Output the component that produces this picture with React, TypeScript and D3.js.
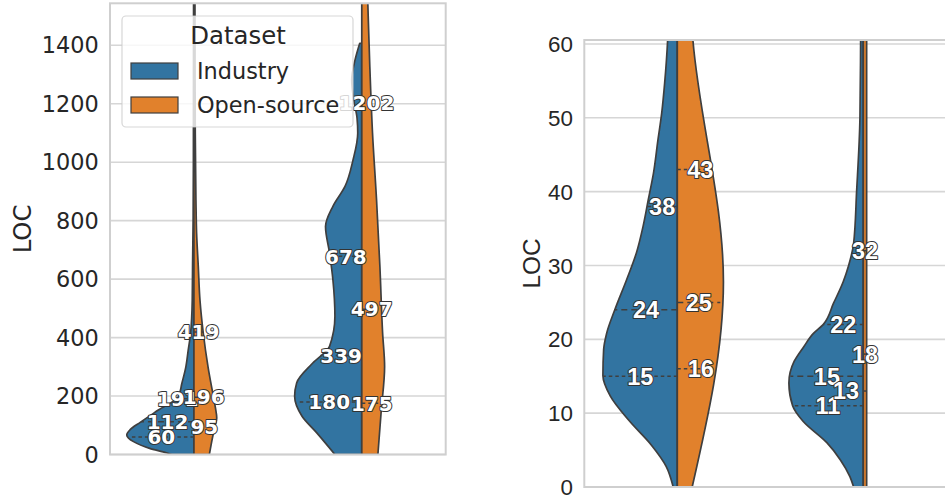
import React from "react";
import * as d3 from "d3";

type Pt = [number, number];

// ---------- data ----------
const GROUPS = ["Industry", "Open-source"];
const GROUP_COLORS = ["#3274a1", "#e1812c"];
const CATEGORIES = ["A", "B"]; // x categories (not labelled in the figure)

const LEFT_TICKS = [0, 200, 400, 600, 800, 1000, 1200, 1400];
const RIGHT_TICKS = [0, 10, 20, 30, 40, 50, 60];
const LEFT_MAX = 1543.7;
const RIGHT_MAX = 60.54;

// density profiles: [LOC, relative density]
const leftIndustryA: Pt[] = [[0, 0.33], [6, 0.41], [21, 0.66], [44, 0.9], [67, 1.0], [85, 0.95], [110, 0.8], [152, 0.53], [198, 0.23], [243, 0.18], [300, 0.12], [357, 0.085], [414, 0.05], [528, 0.025], [650, 0.02], [800, 0.012], [1000, 0.008], [1600, 0.005]];
const leftOpenA: Pt[] = [[0, 0.23], [50, 0.27], [95, 0.31], [125, 0.34], [160, 0.32], [198, 0.29], [300, 0.21], [414, 0.14], [528, 0.09], [643, 0.065], [757, 0.04], [871, 0.03], [1100, 0.02], [1600, 0.015]];
const leftIndustryB: Pt[] = [[0, 0.4], [74, 0.67], [131, 0.89], [199, 1.0], [245, 0.97], [313, 0.73], [370, 0.48], [473, 0.4], [598, 0.43], [689, 0.48], [780, 0.54], [849, 0.43], [917, 0.25], [1008, 0.13], [1100, 0.06], [1150, 0.07], [1213, 0.12], [1281, 0.15], [1350, 0.1], [1407, 0.03]];
const leftOpenB: Pt[] = [[0, 0.24], [150, 0.29], [301, 0.34], [417, 0.31], [643, 0.27], [871, 0.22], [1100, 0.16], [1326, 0.12], [1544, 0.09], [1700, 0.07]];

const rightIndustryA: Pt[] = [[0, 0.055], [2.8, 0.15], [5.7, 0.35], [8.9, 0.64], [12.3, 0.9], [15.1, 1.0], [18.6, 0.99], [20.8, 0.95], [24, 0.84], [28.1, 0.68], [31.7, 0.55], [35.3, 0.46], [38.9, 0.39], [42.5, 0.32], [47, 0.26], [50.6, 0.21], [54.7, 0.17], [60.5, 0.13], [63, 0.12]];
const rightOpenA: Pt[] = [[0, 0.2], [27.8, 0.62], [60.5, 0.21], [63, 0.19]];
const rightIndustryB: Pt[] = [[0, 0.13], [1.4, 0.18], [3.7, 0.31], [6, 0.49], [8.9, 0.81], [11, 0.95], [14.1, 1.0], [17, 0.93], [19, 0.8], [20.8, 0.67], [22, 0.54], [24.9, 0.4], [27.8, 0.27], [29.9, 0.2], [33, 0.13], [40, 0.09], [50, 0.045], [60.5, 0.036], [63, 0.035]];
const rightOpenB: Pt[] = [[0, 0.045], [63, 0.045]];

// quartiles [Q1, median, Q3]
const leftQIndustryA = [60, 112, 191];
const leftQOpenA = [95, 196, 419];
const leftQIndustryB = [180, 339, 678];
const leftQOpenB = [175, 497, 1202];
const rightQIndustryA = [15, 24, 38];
const rightQOpenA = [16, 25, 43];
const rightQIndustryB = [11, 15, 22];
const rightQOpenB = [13, 18, 32];

// ---------- layout ----------
const LABEL_NUDGE: Record<string, number> = {
  "L-0-0-191": -7,
  "R-0-1-16": 7,
  "R-0-1-43": 7,
  "R-1-1-13": -19,
};

const EDGE = "#3f3f3f";
const TEXT = "#262626";

const panels = [
  {
    id: "L", x0: 110, x1: 445.7, yTop: 3.3, yBot: 454.5, max: LEFT_MAX, ticks: LEFT_TICKS,
    font: "'DejaVu Sans', sans-serif", labelSize: 20, yLabelX: 22,
    profiles: [[leftIndustryA, leftOpenA], [leftIndustryB, leftOpenB]],
    quarts: [[leftQIndustryA, leftQOpenA], [leftQIndustryB, leftQOpenB]],
  },
  {
    id: "R", x0: 584.3, x1: 956.3, yTop: 40, yBot: 487, max: RIGHT_MAX, ticks: RIGHT_TICKS,
    font: "'Liberation Sans', Arial, sans-serif", labelSize: 23.5, yLabelX: 531,
    profiles: [[rightIndustryA, rightOpenA], [rightIndustryB, rightOpenB]],
    quarts: [[rightQIndustryA, rightQOpenA], [rightQIndustryB, rightQOpenB]],
  },
];

function interp(p: Pt[], v: number): number {
  for (let i = 0; i < p.length - 1; i++) {
    if (v >= p[i][0] && v <= p[i + 1][0]) {
      const t = (v - p[i][0]) / (p[i + 1][0] - p[i][0]);
      return p[i][1] + t * (p[i + 1][1] - p[i][1]);
    }
  }
  return v < p[0][0] ? p[0][1] : p[p.length - 1][1];
}

function Panel({ pn }: { pn: (typeof panels)[number] }) {
  const y = d3.scaleLinear().domain([0, pn.max]).range([pn.yBot, pn.yTop]);
  const x = d3.scalePoint<string>().domain(CATEGORIES).range([pn.x0, pn.x1]).padding(0.5);
  const halfW = x.step() * 0.4;
  const clipId = "clip-" + pn.id;
  const midY = (pn.yTop + pn.yBot) / 2;

  const violins: JSX.Element[] = [];
  const lines: JSX.Element[] = [];
  const labels: JSX.Element[] = [];

  CATEGORIES.forEach((cat, ci) => {
    const cx = x(cat) as number;
    GROUPS.forEach((g, gi) => {
      const side = gi === 0 ? -1 : 1;
      const prof = pn.profiles[ci][gi] as Pt[];
      const data = [...prof].sort((a, b) => b[0] - a[0]);
      const area = d3
        .area<Pt>()
        .y((d) => y(d[0]))
        .x0(cx)
        .x1((d) => cx + side * d[1] * halfW)
        .curve(d3.curveMonotoneY);
      violins.push(
        <path key={`v-${ci}-${gi}`} d={area(data) || ""} fill={GROUP_COLORS[gi]}
          stroke={EDGE} strokeWidth={1.7} strokeLinejoin="round" />
      );
      const qs = pn.quarts[ci][gi] as number[];
      qs.forEach((q, k) => {
        const w = interp(prof, q) * halfW;
        const yy = y(q);
        lines.push(
          <line key={`q-${ci}-${gi}-${k}`} x1={cx} x2={cx + side * w} y1={yy} y2={yy}
            stroke={EDGE} strokeWidth={1.5} strokeDasharray={k === 1 ? "6,4" : "3.5,3"} />
        );
        const nudge = LABEL_NUDGE[`${pn.id}-${ci}-${gi}-${q}`] || 0;
        labels.push(
          <text key={`t-${ci}-${gi}-${k}`} x={cx + side * w / 2 + nudge} y={yy} dy="0.36em"
            textAnchor="middle" fontFamily={pn.font} fontWeight="bold" fontSize={pn.labelSize}
            fill="#ffffff" stroke="#333333" strokeWidth={2} paintOrder="stroke"
            strokeLinejoin="round">{q}</text>
        );
      });
    });
  });

  return (
    <g>
      <defs>
        <clipPath id={clipId}>
          <rect x={pn.x0} y={pn.yTop} width={pn.x1 - pn.x0} height={pn.yBot - pn.yTop} />
        </clipPath>
      </defs>
      {pn.ticks.map((t) => (
        <line key={"g" + t} x1={pn.x0} x2={pn.x1} y1={y(t)} y2={y(t)} stroke="#d6d6d6" strokeWidth={1.6} />
      ))}
      <g clipPath={`url(#${clipId})`}>
        {violins}
        {lines}
      </g>
      <rect x={pn.x0} y={pn.yTop} width={pn.x1 - pn.x0} height={pn.yBot - pn.yTop}
        fill="none" stroke="#cfcfcf" strokeWidth={2} />
      {pn.ticks.map((t) => (
        <text key={"tk" + t} x={pn.x0 - 11.3} y={y(t)} dy="0.36em" textAnchor="end"
          fontFamily={pn.font} fontSize={22.4} fill={TEXT}>{t}</text>
      ))}
      <text transform={`translate(${pn.yLabelX},${midY}) rotate(-90)`} dy="0.36em" textAnchor="middle"
        fontFamily={pn.font} fontSize={24.4} fill={TEXT}>LOC</text>
      {labels}
    </g>
  );
}

function Legend() {
  const font = "'DejaVu Sans', sans-serif";
  return (
    <g>
      <rect x={122} y={16} width={231} height={111} rx={4} fill="#ffffff" fillOpacity={0.8}
        stroke="#cccccc" strokeOpacity={0.8} strokeWidth={1.2} />
      <text x={238} y={44} textAnchor="middle" fontFamily={font} fontSize={24.4} fill={TEXT}>Dataset</text>
      {GROUPS.map((g, i) => (
        <g key={g}>
          <rect x={131} y={63 + i * 34} width={47} height={16} fill={GROUP_COLORS[i]} stroke={EDGE} strokeWidth={1.2} />
          <text x={197} y={79 + i * 34} fontFamily={font} fontSize={22.4} fill={TEXT}>{g}</text>
        </g>
      ))}
    </g>
  );
}

export default function App() {
  return (
    <svg width={945} height={499} style={{ position: "absolute", left: 0, top: 0, background: "#ffffff" }}>
      <rect x={0} y={0} width={945} height={499} fill="#ffffff" />
      {panels.map((pn) => (
        <Panel key={pn.id} pn={pn} />
      ))}
      <Legend />
    </svg>
  );
}
